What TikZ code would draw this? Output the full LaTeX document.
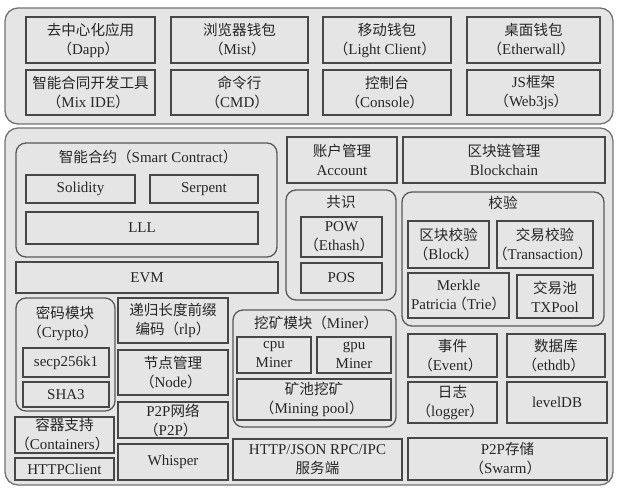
\documentclass[tikz,border=0pt]{standalone}
\usepackage{fontspec}
\setmainfont{Liberation Serif}
\newfontfamily\cjk[Scale=0.97]{Noto Sans CJK SC}
\newcommand\zh[1]{{\cjk #1}}
\newcommand\lp{{\cjk\hspace{-0.3em}（}}
\newcommand\rp{{\cjk ）\hspace{-0.3em}}}
\tikzset{
  panel/.style={draw=black!55, line width=1.3pt, fill=black!10, rounded corners=13pt, inner sep=0pt},
  grp/.style={draw=black!65, line width=1.3pt, fill=black!10, rounded corners=10pt, inner sep=0pt},
  box/.style={draw=black!72, line width=1.5pt, fill=black!10, inner sep=0pt, align=center, text=black!85, font=\fontsize{15}{19}\selectfont},
  ttl/.style={inner sep=0pt, align=center, text=black!85, font=\fontsize{15}{19}\selectfont},
}
\newcommand\bx[7][box]{\node[#1, minimum width={(#5-#3)*1pt}, minimum height={(#6-#4)*1pt}] (#2) at ({(#3+#5)/2},{(#4+#6)/2}) {#7};}
\begin{document}
\begin{tikzpicture}[x=1pt, y=-1pt]
\useasboundingbox (0,0) rectangle (620,490);
% top panel
\bx[panel]{top}{5}{8}{613}{124}{}
\bx{t1}{26}{17}{155}{63}{\zh{去中心化应用}\\\lp Dapp\rp}
\bx{t2}{171}{17}{308}{63}{\zh{浏览器钱包}\\\lp Mist\rp}
\bx{t3}{323}{17}{451}{63}{\zh{移动钱包}\\\lp Light Client\rp}
\bx{t4}{467}{17}{600}{63}{\zh{桌面钱包}\\\lp Etherwall\rp}
\bx{t5}{26}{70}{155}{115}{\zh{智能合同开发工具}\\\lp Mix IDE\rp}
\bx{t6}{171}{70}{308}{115}{\zh{命令行}\\\lp CMD\rp}
\bx{t7}{323}{70}{451}{115}{\zh{控制台}\\\lp Console\rp}
\bx{t8}{467}{70}{600}{115}{JS\zh{框架}\\\lp Web3js\rp}
% main panel
\bx[panel]{main}{5}{128}{613}{485}{}
% smart contract
\bx[grp]{gsc}{16}{143}{277}{257}{}
\node[ttl] (gsct) at (146,157) {\zh{智能合约（}Smart Contract\rp};
\bx{solidity}{26}{175}{135}{203}{Solidity}
\bx{serpent}{150}{175}{258}{203}{Serpent}
\bx{lll}{26}{212}{258}{244}{LLL}
\bx{evm}{16}{262}{278}{293}{EVM}
\bx{account}{287}{137}{397}{183}{\zh{账户管理}\\Account}
\bx{blockchain}{403}{137}{605}{183}{\zh{区块链管理}\\Blockchain}
% consensus
\bx[grp]{gcs}{286}{190}{396}{300}{}
\node[ttl] (gcst) at (341,202) {\zh{共识}};
\bx{pow}{301}{217}{382}{257}{POW\\\lp Ethash\rp}
\bx{pos}{301}{263}{382}{293}{POS}
% verification
\bx[grp]{gvf}{402}{192}{604}{326}{}
\node[ttl] (gvft) at (503,203) {\zh{校验}};
\bx{blk}{408}{221}{489}{268}{\zh{区块校验}\\\lp Block\rp}
\bx{txv}{497}{221}{593}{268}{\zh{交易校验}\\\lp Transaction\rp}
\bx{merkle}{408}{273}{509}{318}{Merkle\\Patricia\lp Trie\rp}
\bx{txpool}{517}{275}{593}{318}{\zh{交易池}\\TXPool}
% crypto
\bx[grp]{gcr}{16}{298}{115}{411}{}
\node[ttl] (gcrt) at (65,323) {\zh{密码模块}\\\lp Crypto\rp};
\bx{secp}{23}{348}{109}{377}{secp256k1}
\bx{sha}{23}{382}{109}{407}{SHA3}
\bx{rlp}{118}{298}{228}{343}{\zh{递归长度前缀}\\\zh{编码（}rlp\rp}
\bx{nodem}{118}{350}{228}{395}{\zh{节点管理}\\\lp Node\rp}
\bx{ptp}{118}{402}{228}{438}{P2P\zh{网络}\\\lp P2P\rp}
\bx{whisper}{118}{444}{228}{480}{Whisper}
\bx{containers}{15}{417}{114}{453}{\zh{容器支持}\\\lp Containers\rp}
\bx{httpc}{15}{458}{114}{480}{HTTPClient}
% miner
\bx[grp]{gmn}{233}{310}{396}{427}{}
\node[ttl] (gmnt) at (314,323) {\zh{挖矿模块（}Miner\rp};
\bx{cpu}{237}{337}{311}{373}{cpu\\Miner}
\bx{gpu}{317}{337}{391}{373}{gpu\\Miner}
\bx{pool}{237}{379}{391}{420}{\zh{矿池挖矿}\\\lp Mining pool\rp}
\bx{rpc}{233}{439}{402}{480}{HTTP/JSON RPC/IPC\\\zh{服务端}}
\bx{event}{408}{334}{497}{377}{\zh{事件}\\\lp Event\rp}
\bx{ethdb}{507}{334}{605}{377}{\zh{数据库}\\\lp ethdb\rp}
\bx{logger}{408}{382}{497}{423}{\zh{日志}\\\lp logger\rp}
\bx{leveldb}{507}{382}{607}{423}{levelDB}
\bx{swarm}{408}{438}{607}{480}{P2P\zh{存储}\\\lp Swarm\rp}
\end{tikzpicture}
\end{document}
